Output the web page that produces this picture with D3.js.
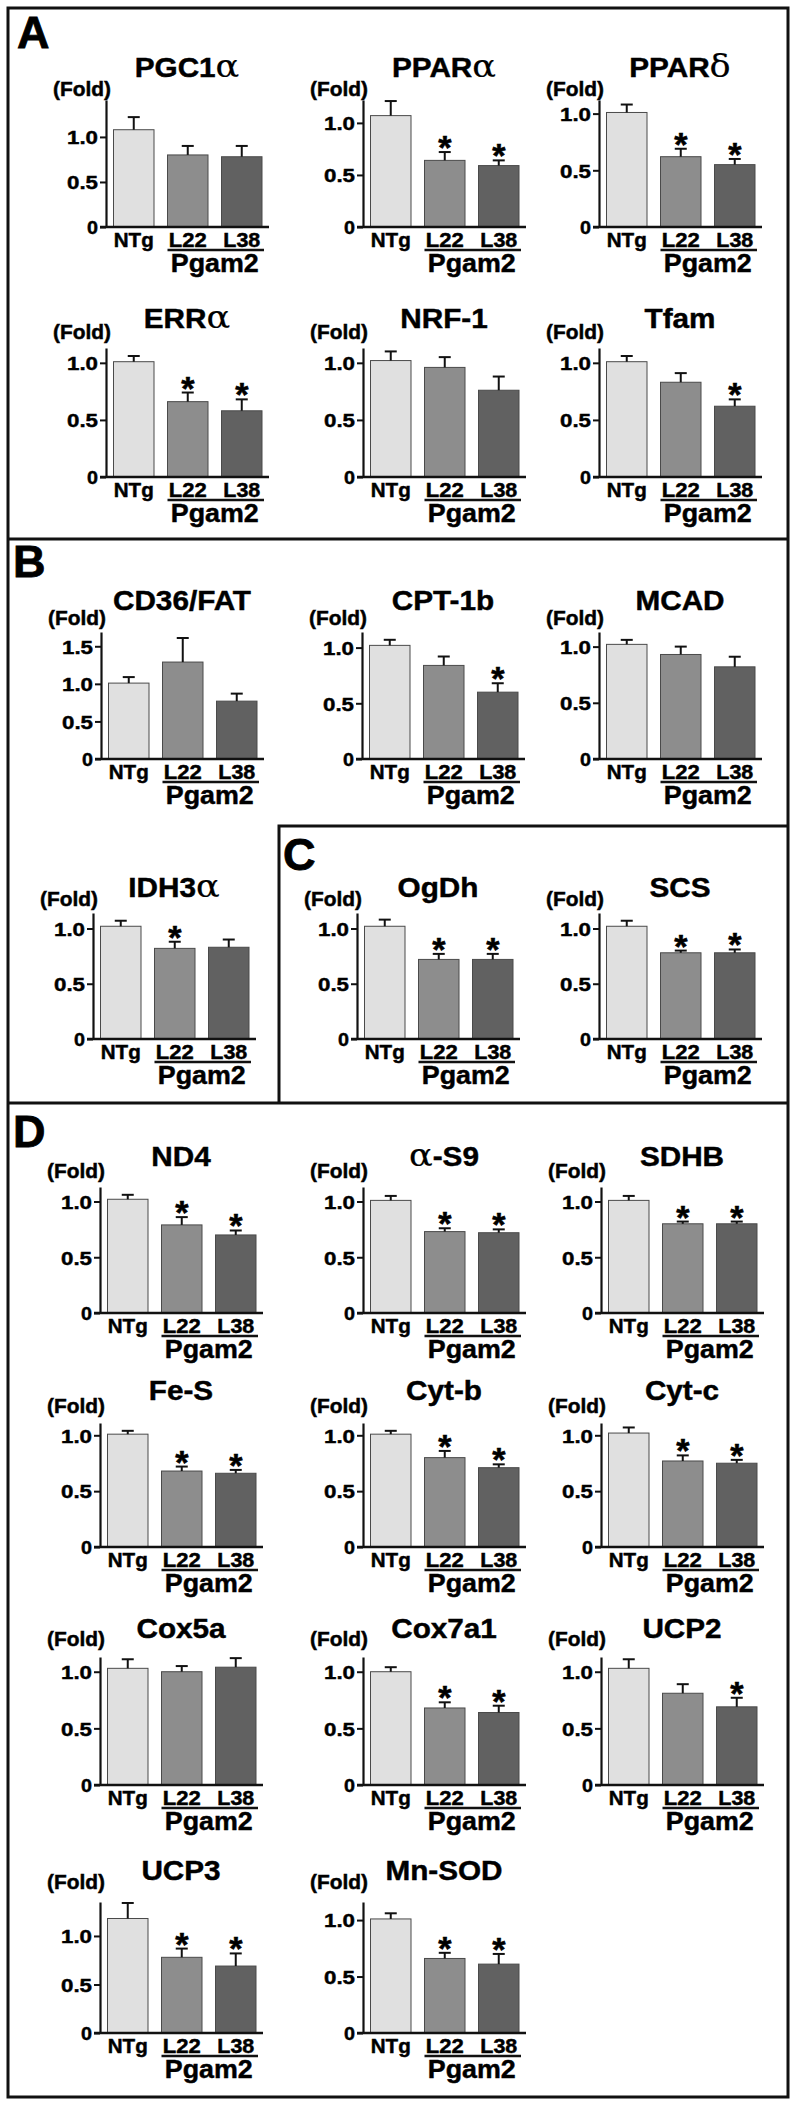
<!DOCTYPE html>
<html><head><meta charset="utf-8">
<script src="https://cdn.jsdelivr.net/npm/d3@7"></script>
<style>html,body{margin:0;padding:0;background:#fff}</style>
</head><body><svg id="c" width="797" height="2105"></svg>
<script>
// ---------- DATA ----------
const titles = ["PGC1α","PPARα","PPARδ","ERRα","NRF-1","Tfam","CD36/FAT","CPT-1b","MCAD","IDH3α","OgDh","SCS","ND4","α-S9","SDHB","Fe-S","Cyt-b","Cyt-c","Cox5a","Cox7a1","UCP2","UCP3","Mn-SOD"];
const groups = ["NTg","L22","L38"];
const ntgMean = [1.08,1.07,1.01,1.01,1.02,1.01,1.01,1.02,1.02,1.02,1.02,1.02,1.02,1.01,1.01,1.01,1.01,1.02,1.03,1.00,1.03,1.18,1.01];
const l22Mean = [0.80,0.64,0.62,0.66,0.96,0.83,1.29,0.84,0.93,0.82,0.72,0.78,0.79,0.73,0.80,0.68,0.80,0.77,1.00,0.68,0.81,0.78,0.66];
const l38Mean = [0.78,0.59,0.55,0.58,0.76,0.62,0.77,0.60,0.82,0.83,0.72,0.78,0.70,0.72,0.80,0.66,0.71,0.75,1.04,0.64,0.69,0.69,0.61];
const ntgSem  = [0.14,0.14,0.07,0.05,0.08,0.05,0.08,0.05,0.04,0.05,0.06,0.05,0.04,0.04,0.04,0.03,0.03,0.05,0.08,0.04,0.08,0.16,0.05];
const l22Sem  = [0.10,0.08,0.07,0.08,0.09,0.08,0.32,0.08,0.07,0.06,0.05,0.02,0.07,0.03,0.02,0.04,0.06,0.05,0.05,0.05,0.08,0.09,0.05];
const l38Sem  = [0.12,0.05,0.05,0.10,0.12,0.06,0.10,0.08,0.09,0.07,0.05,0.03,0.04,0.03,0.02,0.03,0.03,0.03,0.08,0.06,0.08,0.13,0.09];
const l22Star = [0,1,1,1,0,0,0,0,0,1,1,1,1,1,1,1,1,1,0,1,0,1,1];
const l38Star = [0,1,1,1,0,1,0,1,0,0,1,1,1,1,1,1,1,1,0,1,1,1,1];
const axisMax = [1.41,1.22,1.12,1.13,1.13,1.13,1.69,1.14,1.13,1.14,1.14,1.14,1.13,1.13,1.13,1.11,1.11,1.11,1.13,1.13,1.13,1.35,1.16];
const tickValues = [0,0.5,1.0];
const tickValuesWide = [0,0.5,1.0,1.5];
const wideTickChart = "CD36/FAT";
const yLabel = "(Fold)";
const groupLabel = "Pgam2";
const panelLetters = ["A","B","C","D"];

// ---------- LAYOUT ----------
const rows = [
  {base:227, top:100, ty:77,  fy:96,   xs:[106,363,599]},
  {base:477, top:348, ty:328, fy:339,  xs:[106,363,599]},
  {base:759, top:632, ty:610, fy:625,  xs:[101,362,599]},
  {base:1039,top:913, ty:897, fy:906,  xs:[93,357,599]},
  {base:1313,top:1187,ty:1166,fy:1178, xs:[100,363,601]},
  {base:1547,top:1423,ty:1400,fy:1413, xs:[100,363,601]},
  {base:1785,top:1657,ty:1638,fy:1646, xs:[100,363,601]},
  {base:2033,top:1902,ty:1880,fy:1889, xs:[100,363]}
];
const SX = 1.08;
const FONT = "'Liberation Sans', Arial, Helvetica, sans-serif";
const fills = ["#e0e0e0","#8d8d8d","#616161"];
const labelWidth = {"NTg":40, "L22":38, "L38":37};
const HEAVY = 0.45;

const svg = d3.select("#c");
svg.append("rect").attr("width",797).attr("height",2105).attr("fill","#fff");

function sText(parent, x, y, str, size, anchor, width) {
  const g = parent.append("g").attr("transform", `translate(${x},${y}) scale(${SX},1)`);
  const t = g.append("text").attr("font-family", FONT).attr("font-weight","bold")
    .attr("font-size", size).attr("text-anchor", anchor).attr("fill","#000")
    .attr("stroke","#000").attr("stroke-width",HEAVY);
  if (width) {
    t.text(str).attr("textLength", width / SX).attr("lengthAdjust","spacingAndGlyphs");
    return t;
  }
  const parts = str.split(/([αδ])/).filter(s => s.length);
  parts.forEach(p => {
    const ts = t.append("tspan").text(p);
    if (/[αδ]/.test(p)) ts.attr("font-family","'DejaVu Serif', serif").attr("font-weight","normal")
      .attr("font-size", size*1.18).attr("stroke-width",0.2);
  });
  return t;
}

let ci = 0;
rows.forEach(r => {
  r.xs.forEach(ax => {
    const i = ci++;
    const g = svg.append("g");
    const y = d3.scaleLinear().domain([0, axisMax[i]]).range([r.base, r.top]);
    const x = d3.scaleBand().domain(groups).range([ax+7.5, ax+156]).paddingInner(0.25).paddingOuter(0);
    const means = [ntgMean[i], l22Mean[i], l38Mean[i]];
    const sems = [ntgSem[i], l22Sem[i], l38Sem[i]];
    const stars = [0, l22Star[i], l38Star[i]];
    const data = groups.map((k,j)=>({k, m:means[j], s:sems[j], st:stars[j], f:fills[j]}));

    // bars
    g.selectAll("rect.bar").data(data).join("rect")
      .attr("x", d=>x(d.k)).attr("width", x.bandwidth())
      .attr("y", d=>y(d.m)).attr("height", d=>r.base - y(d.m))
      .attr("fill", d=>d.f).attr("stroke","#4a4a4a").attr("stroke-width",1);
    // error bars
    data.forEach(d => {
      const cx = x(d.k) + x.bandwidth()/2;
      g.append("line").attr("x1",cx).attr("x2",cx).attr("y1",y(d.m)).attr("y2",y(d.m+d.s))
        .attr("stroke","#111").attr("stroke-width",2);
      g.append("line").attr("x1",cx-6).attr("x2",cx+6).attr("y1",y(d.m+d.s)).attr("y2",y(d.m+d.s))
        .attr("stroke","#111").attr("stroke-width",2);
      if (d.st) {
        g.append("text").attr("x",cx).attr("y",y(d.m+d.s)+7).attr("text-anchor","middle")
          .attr("font-family",FONT).attr("font-weight","bold").attr("font-size",34).attr("fill","#000")
          .attr("stroke","#000").attr("stroke-width",0.6).text("*");
      }
    });

    // y axis
    const tv = titles[i] === wideTickChart ? tickValuesWide : tickValues;
    const axis = d3.axisLeft(y).tickValues(tv).tickSize(6).tickSizeOuter(0)
      .tickFormat(v => v === 0 ? "0" : v.toFixed(1));
    const ag = g.append("g").attr("transform",`translate(${ax},0)`).call(axis);
    ag.select(".domain").attr("stroke","#111").attr("stroke-width",2.2);
    ag.selectAll(".tick line").attr("stroke","#111").attr("stroke-width",2);
    ag.selectAll(".tick text").attr("font-family",FONT).attr("font-weight","bold")
      .attr("font-size",19).attr("fill","#000").attr("stroke","#000").attr("stroke-width",HEAVY)
      .attr("x",-8).attr("dy","0.36em")
      .attr("textLength", v => v === 0 ? 11 : 31).attr("lengthAdjust","spacingAndGlyphs");
    ag.attr("font-size",null).attr("font-family",null);
    // baseline
    g.append("line").attr("x1",ax-6).attr("x2",ax+163).attr("y1",r.base).attr("y2",r.base)
      .attr("stroke","#111").attr("stroke-width",2.5);

    // category labels
    groups.forEach(k => {
      sText(g, x(k)+x.bandwidth()/2, r.base+20, k, 19.5, "middle", labelWidth[k]);
    });
    const x1 = x("L22"), x2 = x("L38")+x.bandwidth();
    g.append("line").attr("x1",x1).attr("x2",x2+2).attr("y1",r.base+23).attr("y2",r.base+23)
      .attr("stroke","#111").attr("stroke-width",2.5);
    sText(g, (x("L22")+x("L38"))/2 + x.bandwidth()/2, r.base+45, groupLabel, 26, "middle", 88);

    // y label
    sText(g, ax+5, r.fy, yLabel, 19.5, "end", 58);
    // title
    sText(g, ax+81, r.ty, titles[i], 27.5, "middle");
  });
});

// ---------- PANEL FRAMES ----------
const fr = svg.append("g").attr("fill","none").attr("stroke","#111").attr("stroke-width",3);
fr.append("rect").attr("x",8).attr("y",8).attr("width",780).attr("height",2089);
fr.append("line").attr("x1",8).attr("x2",788).attr("y1",539).attr("y2",539);
fr.append("line").attr("x1",8).attr("x2",788).attr("y1",1103).attr("y2",1103);
fr.append("path").attr("d","M279,1103V826H788");

const letterPos = [[17,48],[13,577],[283,870],[13,1147]];
panelLetters.forEach((L,k) => {
  svg.append("text").attr("x",letterPos[k][0]).attr("y",letterPos[k][1])
    .attr("font-family",FONT).attr("font-weight","bold").attr("font-size",45).attr("fill","#000")
    .attr("stroke","#000").attr("stroke-width",0.8).text(L);
});
</script></body></html>
